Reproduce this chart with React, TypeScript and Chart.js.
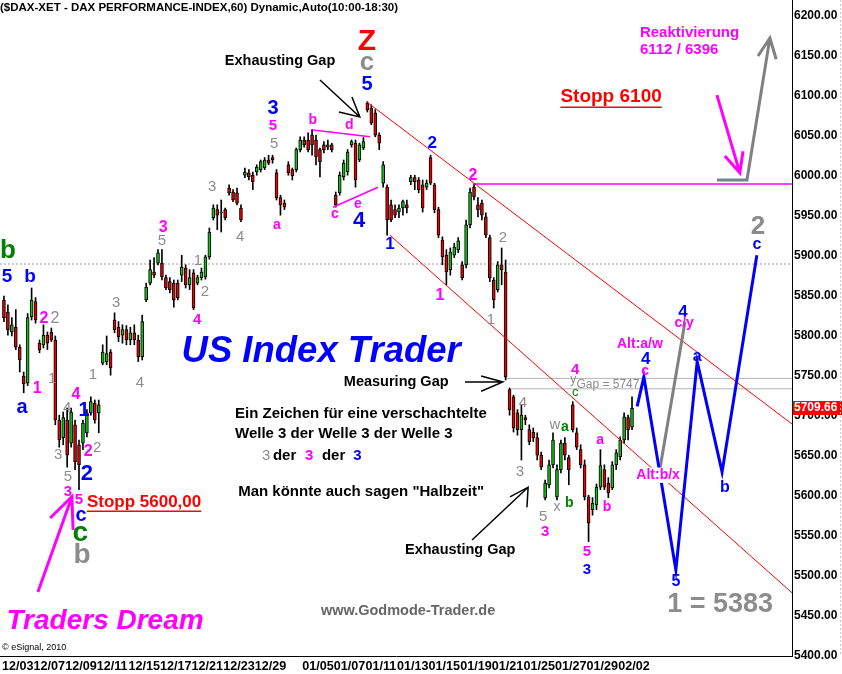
import React, { useEffect, useRef } from "react";
import { Chart, registerables } from "chart.js";

Chart.register(...registerables);

const FONT = "'Liberation Sans', Arial, Helvetica, sans-serif";

const TITLE = "($DAX-XET - DAX PERFORMANCE-INDEX,60) Dynamic,Auto(10:00-18:30)";
const BARS_PER_DAY = 4;
const DAY_LABELS = ["12/03", "12/07", "12/09", "12/11", "12/15", "12/17", "12/21", "12/23", "12/29", "01/05", "01/07", "01/11", "01/13", "01/15", "01/19", "01/21", "01/25", "01/27", "01/29", "02/02"];
const DAY_SLOTS = [0, 2, 4, 6, 8, 10, 12, 14, 16, 19, 21, 23, 25, 27, 29, 31, 33, 35, 37, 39];
const PRICE_TICKS = [5400, 5450, 5500, 5550, 5600, 5650, 5700, 5750, 5800, 5850, 5900, 5950, 6000, 6050, 6100, 6150, 6200];
const LAST_PRICE = 5709.66;

const OPEN = [
  5845, 5830, 5805, 5811, 5786, 5750, 5741, 5824, 5843, 5791,
  5789, 5801, 5805, 5795, 5695, 5673, 5695, 5666, 5689, 5664,
  5666, 5679, 5704, 5716, 5704, 5766, 5768, 5780, 5820, 5811,
  5801, 5808, 5795, 5804, 5795, 5774, 5845, 5866, 5880, 5891,
  5891, 5873, 5868, 5866, 5866, 5876, 5885, 5864, 5879, 5866,
  5873, 5874, 5899, 5948, 5958, 5954, 5958, 5985, 5980, 5979,
  5960, 6001, 6004, 6001, 6005, 6008, 6010, 6020, 6023, 6004,
  5973, 5966, 6014, 6008, 6008, 6033, 6045, 6045, 6051, 6045,
  6033, 6039, 6036, 6039, 5976, 5979, 5999, 6005, 6039, 6041,
  6020, 6035, 6091, 6085, 6079, 6051, 5991, 5986, 5964, 5958,
  5955, 5960, 5964, 5993, 5998, 5995, 5989, 5986, 6023, 5989,
  5958, 5920, 5901, 5883, 5901, 5908, 5889, 5889, 5939, 5986,
  5964, 5966, 5949, 5923, 5870, 5858, 5889, 5880, 5733, 5724,
  5704, 5683, 5698, 5683, 5680, 5673, 5651, 5598, 5614, 5639,
  5599, 5633, 5666, 5648, 5714, 5679, 5658, 5639, 5599, 5583,
  5589, 5611, 5633, 5616, 5610, 5639, 5649, 5670, 5698, 5686,
];
const HIGH = [
  5850, 5839, 5823, 5833, 5789, 5755, 5828, 5860, 5848, 5795,
  5814, 5805, 5810, 5800, 5701, 5705, 5710, 5710, 5695, 5670,
  5695, 5708, 5724, 5720, 5720, 5789, 5800, 5783, 5829, 5818,
  5814, 5813, 5811, 5814, 5801, 5826, 5866, 5895, 5898, 5908,
  5908, 5876, 5873, 5870, 5870, 5901, 5889, 5883, 5883, 5876,
  5885, 5901, 5935, 5964, 5964, 5970, 5960, 5989, 5983, 5985,
  5964, 6010, 6008, 6005, 6014, 6020, 6023, 6026, 6026, 6008,
  5976, 5970, 6018, 6010, 6035, 6049, 6049, 6054, 6058, 6051,
  6035, 6043, 6045, 6041, 5980, 6005, 6020, 6033, 6045, 6045,
  6041, 6048, 6093, 6089, 6083, 6054, 6018, 5989, 5970, 5964,
  5964, 5970, 5970, 6001, 6001, 5998, 5995, 5995, 6026, 5991,
  5961, 5924, 5908, 5910, 5916, 5923, 5893, 5945, 5985, 5989,
  5973, 5970, 5954, 5926, 5873, 5893, 5910, 5895, 5735, 5726,
  5708, 5714, 5701, 5689, 5685, 5679, 5655, 5620, 5645, 5679,
  5639, 5670, 5673, 5651, 5718, 5685, 5664, 5645, 5601, 5598,
  5615, 5658, 5639, 5623, 5643, 5658, 5674, 5704, 5701, 5724,
];
const LOW = [
  5818, 5801, 5800, 5783, 5755, 5729, 5738, 5820, 5816, 5779,
  5785, 5783, 5793, 5689, 5661, 5664, 5636, 5661, 5633, 5608,
  5658, 5674, 5701, 5691, 5679, 5764, 5764, 5751, 5804, 5793,
  5791, 5789, 5789, 5789, 5768, 5770, 5843, 5864, 5873, 5889,
  5870, 5858, 5854, 5836, 5845, 5868, 5860, 5858, 5833, 5864,
  5870, 5871, 5896, 5945, 5933, 5930, 5945, 5976, 5968, 5964,
  5943, 5998, 5995, 5983, 6001, 6005, 6008, 6014, 6016, 5970,
  5951, 5958, 6001, 5995, 6005, 6030, 6036, 6030, 6026, 6014,
  5999, 6029, 6033, 6030, 5961, 5976, 5995, 6001, 6036, 5986,
  6018, 6033, 6080, 6064, 6049, 6033, 5986, 5926, 5943, 5948,
  5948, 5951, 5954, 5989, 5983, 5979, 5955, 5983, 5989, 5954,
  5923, 5889, 5864, 5876, 5898, 5904, 5870, 5885, 5935, 5970,
  5949, 5945, 5923, 5868, 5835, 5855, 5864, 5745, 5701, 5680,
  5676, 5645, 5689, 5664, 5668, 5645, 5633, 5595, 5610, 5635,
  5595, 5629, 5645, 5614, 5680, 5658, 5635, 5595, 5543, 5576,
  5583, 5608, 5608, 5598, 5608, 5633, 5645, 5666, 5670, 5683,
];
const CLOSE = [
  5823, 5808, 5814, 5786, 5770, 5740, 5823, 5845, 5820, 5783,
  5801, 5791, 5795, 5695, 5670, 5698, 5651, 5705, 5643, 5639,
  5691, 5704, 5718, 5695, 5714, 5780, 5778, 5760, 5808, 5799,
  5808, 5795, 5804, 5795, 5774, 5818, 5861, 5883, 5876, 5904,
  5874, 5860, 5858, 5845, 5848, 5886, 5864, 5873, 5835, 5873,
  5880, 5899, 5930, 5960, 5951, 5955, 5948, 5979, 5970, 5966,
  5945, 6005, 5999, 5993, 6011, 6018, 6020, 6016, 6020, 5973,
  5964, 5961, 6004, 6000, 6033, 6045, 6039, 6033, 6039, 6024,
  6018, 6033, 6039, 6033, 5964, 6001, 6016, 6030, 6043, 5995,
  6039, 6043, 6083, 6066, 6051, 6041, 6014, 5945, 5945, 5951,
  5960, 5968, 5960, 5998, 5993, 5983, 5960, 5991, 5991, 5958,
  5926, 5899, 5880, 5905, 5911, 5919, 5873, 5939, 5980, 5974,
  5958, 5951, 5926, 5873, 5845, 5889, 5883, 5749, 5708, 5685,
  5683, 5701, 5695, 5668, 5673, 5651, 5636, 5616, 5639, 5670,
  5633, 5666, 5651, 5633, 5683, 5661, 5639, 5599, 5566, 5591,
  5611, 5638, 5611, 5604, 5639, 5654, 5670, 5699, 5683, 5709.66,
];

// drawn lines, in (bar index, price); null breaks a path
const CHANNEL_UPPER = [[92, 6092], [199.5, 5690]];
const CHANNEL_LOWER = [[97.7, 5926], [199.5, 5479]];
const RESIST_5990 = [[118.7, 5990], [199.5, 5990]];
const DOTTED_5890 = [[-1, 5890], [199.5, 5890]];
const GAP_UPPER = [[127, 5747], [199.5, 5747]];
const GAP_LOWER = [[128, 5734], [199.5, 5734]];
const TRI_UPPER = [[78.2, 6057.5], [92.7, 6049]];
const TRI_LOWER = [[83.3, 5961], [94.7, 5986]];
const PROJ_BLUE = [[160.3, 5712], [162, 5749], [170.1, 5507.5], [175.5, 5768], [181.8, 5630], [190.6, 5901]];
const PROJ_GRAY = [[166.1, 5635], [172.4, 5817.5]];
const ARROW_GRAY = [[180.5, 5995], [188.1, 5995], [193.9, 6172.5], null, [190.9, 6150], [193.9, 6172.5], [195.5, 6146]];
const ARROW_MAGENTA = [[180.5, 6101], [186.3, 6004], null, [182.5, 6025], [186.3, 6004], [187.1, 6031]];
const ARROW_DREAM = [[8.6, 5480], [17.2, 5599], null, [11.7, 5572.5], [17.2, 5599], [17.5, 5557.5]];
const ARROW_EXH_TOP = [[80, 6120], [90.1, 6073.75], null, [88.1, 6098.75], [90.1, 6073.75], [84.8, 6080]];
const ARROW_MEASURE = [[116.7, 5742.5], [126.3, 5742.5], null, [120.8, 5750], [126.3, 5742.5], [120.8, 5731]];
const ARROW_EXH_BOTTOM = [[118.5, 5545], [132.7, 5611], null, [128.1, 5599], [132.7, 5611], [132.4, 5586]];

const MAG = "#ff00ff";
const BLU = "#0000ff";
const GRY = "#8c8c8c";
const GRN = "#008000";
const RED = "#ff0000";
const BLK = "#000000";

type Lbl = { t: string; i: number; p: number; c: string; s: number; b?: number; it?: number; a?: string; bg?: number; u?: number };

const LABELS: Lbl[] = [
  { t: "b", i: 1.0, p: 5906, c: GRN, s: 26, b: 1 },
  { t: "5", i: 0.8, p: 5874, c: BLU, s: 19, b: 1 },
  { t: "b", i: 6.6, p: 5874, c: BLU, s: 19, b: 1 },
  { t: "2", i: 10.1, p: 5822, c: MAG, s: 16, b: 1 },
  { t: "2", i: 12.9, p: 5822, c: GRY, s: 16 },
  { t: "1", i: 8.4, p: 5734, c: MAG, s: 16, b: 1 },
  { t: "a", i: 4.6, p: 5711, c: BLU, s: 20, b: 1 },
  { t: "3", i: 28.4, p: 5842, c: GRY, s: 15 },
  { t: "1", i: 22.5, p: 5751, c: GRY, s: 15 },
  { t: "4", i: 34.4, p: 5742, c: GRY, s: 15 },
  { t: "1", i: 12.2, p: 5747, c: GRY, s: 15 },
  { t: "4", i: 18.2, p: 5727, c: MAG, s: 16, b: 1 },
  { t: "1", i: 20.3, p: 5707, c: BLU, s: 20, b: 1 },
  { t: "4", i: 16.0, p: 5710, c: GRY, s: 15 },
  { t: "3", i: 13.7, p: 5651, c: GRY, s: 15 },
  { t: "5", i: 16.2, p: 5624, c: GRY, s: 15 },
  { t: "2", i: 21.3, p: 5655, c: MAG, s: 16, b: 1 },
  { t: "2", i: 23.6, p: 5660, c: GRY, s: 15 },
  { t: "2", i: 21.0, p: 5627, c: BLU, s: 22, b: 1 },
  { t: "3", i: 16.2, p: 5605, c: MAG, s: 15, b: 1 },
  { t: "5", i: 19.0, p: 5595, c: MAG, s: 15, b: 1 },
  { t: "c", i: 19.5, p: 5576, c: BLU, s: 20, b: 1 },
  { t: "c", i: 19.3, p: 5554, c: GRN, s: 28, b: 1 },
  { t: "b", i: 19.8, p: 5526, c: GRY, s: 28, b: 1 },
  { t: "Stopp 5600,00", i: 21.0, p: 5592.5, c: RED, s: 17, b: 1, a: "l", u: 1 },
  { t: "3", i: 40.3, p: 5936, c: MAG, s: 16, b: 1 },
  { t: "5", i: 40.0, p: 5919, c: GRY, s: 15 },
  { t: "4", i: 48.9, p: 5820, c: MAG, s: 15, b: 1 },
  { t: "1", i: 49.1, p: 5894, c: GRY, s: 15 },
  { t: "2", i: 50.9, p: 5855, c: GRY, s: 15 },
  { t: "3", i: 52.7, p: 5986, c: GRY, s: 15 },
  { t: "4", i: 59.8, p: 5924, c: GRY, s: 15 },
  { t: "a", i: 69.1, p: 5939, c: MAG, s: 14, b: 1 },
  { t: "5", i: 68.4, p: 6040, c: GRY, s: 15 },
  { t: "3", i: 68.1, p: 6085, c: BLU, s: 20, b: 1 },
  { t: "5", i: 68.1, p: 6062.5, c: MAG, s: 15, b: 1 },
  { t: "b", i: 78.2, p: 6070, c: MAG, s: 14, b: 1 },
  { t: "d", i: 87.4, p: 6064, c: MAG, s: 14, b: 1 },
  { t: "c", i: 83.8, p: 5952.5, c: MAG, s: 14, b: 1 },
  { t: "e", i: 89.6, p: 5965, c: MAG, s: 14, b: 1 },
  { t: "4", i: 89.9, p: 5944, c: BLU, s: 22, b: 1 },
  { t: "5", i: 91.9, p: 6115, c: BLU, s: 20, b: 1 },
  { t: "c", i: 91.9, p: 6141, c: GRY, s: 26, b: 1 },
  { t: "Z", i: 91.9, p: 6167.5, c: RED, s: 30, b: 1 },
  { t: "Exhausting Gap", i: 69.9, p: 6144, c: BLK, s: 14.5, b: 1 },
  { t: "2", i: 108.4, p: 6041, c: BLU, s: 17, b: 1 },
  { t: "1", i: 97.7, p: 5914, c: BLU, s: 17, b: 1 },
  { t: "2", i: 118.7, p: 6001, c: MAG, s: 16, b: 1 },
  { t: "1", i: 110.4, p: 5850, c: MAG, s: 16, b: 1 },
  { t: "2", i: 126.3, p: 5922.5, c: GRY, s: 15 },
  { t: "1", i: 123.3, p: 5820, c: GRY, s: 15 },
  { t: "US Index Trader", i: 80.3, p: 5780, c: BLU, s: 36.5, b: 1, it: 1 },
  { t: "Measuring Gap", i: 99.3, p: 5742.5, c: BLK, s: 14.5, b: 1 },
  { t: "Ein Zeichen für eine verschachtelte", i: 58.5, p: 5702.5, c: BLK, s: 15, b: 1, a: "l" },
  { t: "Welle 3 der Welle 3 der Welle 3", i: 58.5, p: 5677.5, c: BLK, s: 15, b: 1, a: "l" },
  { t: "3", i: 65.3, p: 5650, c: GRY, s: 15, a: "l" },
  { t: "der", i: 68.1, p: 5650, c: BLK, s: 15, b: 1, a: "l" },
  { t: "3", i: 76.2, p: 5650, c: MAG, s: 15, b: 1, a: "l" },
  { t: "der", i: 80.5, p: 5650, c: BLK, s: 15, b: 1, a: "l" },
  { t: "3", i: 88.4, p: 5650, c: BLU, s: 15, b: 1, a: "l" },
  { t: "Man könnte auch sagen \"Halbzeit\"", i: 59.3, p: 5605, c: BLK, s: 15, b: 1, a: "l" },
  { t: "Exhausting Gap", i: 115.5, p: 5532.5, c: BLK, s: 14.5, b: 1 },
  { t: "www.Godmode-Trader.de", i: 102.3, p: 5456, c: "#666666", s: 14.5, b: 1 },
  { t: "1 = 5383", i: 181.3, p: 5464, c: GRY, s: 27, b: 1 },
  { t: "Traders Dream", i: 25.6, p: 5444, c: MAG, s: 28, b: 1, it: 1 },
  { t: "Stopp 6100", i: 153.7, p: 6099, c: RED, s: 19, b: 1, u: 1 },
  { t: "Reaktivierung", i: 161.0, p: 6179, c: MAG, s: 15, b: 1, a: "l" },
  { t: "6112 / 6396", i: 161.0, p: 6157.5, c: MAG, s: 15, b: 1, a: "l" },
  { t: "Alt:a/w", i: 161.0, p: 5790, c: MAG, s: 14, b: 1 },
  { t: "4", i: 162.5, p: 5771, c: BLU, s: 17, b: 1 },
  { t: "c", i: 162.3, p: 5756, c: MAG, s: 14, b: 1 },
  { t: "4", i: 171.9, p: 5830, c: BLU, s: 17, b: 1 },
  { t: "c/y", i: 172.2, p: 5816, c: MAG, s: 14, b: 1 },
  { t: "Alt:b/x", i: 165.6, p: 5626, c: MAG, s: 14, b: 1, bg: 1 },
  { t: "a", i: 175.5, p: 5774, c: BLU, s: 16, b: 1 },
  { t: "b", i: 182.5, p: 5610, c: BLU, s: 16, b: 1 },
  { t: "5", i: 170.1, p: 5492.5, c: BLU, s: 16, b: 1 },
  { t: "2", i: 190.9, p: 5936, c: GRY, s: 26, b: 1 },
  { t: "c", i: 190.6, p: 5914, c: BLU, s: 16, b: 1 },
  { t: "4", i: 144.6, p: 5757.5, c: MAG, s: 15, b: 1 },
  { t: "y", i: 144.1, p: 5745, c: GRY, s: 12 },
  { t: "c", i: 144.6, p: 5730, c: GRN, s: 13 },
  { t: "Gap = 5747", i: 152.9, p: 5739, c: GRY, s: 12 },
  { t: "4", i: 131.4, p: 5716, c: GRY, s: 15 },
  { t: "3", i: 130.6, p: 5630, c: GRY, s: 15 },
  { t: "w", i: 139.5, p: 5689, c: GRY, s: 15 },
  { t: "a", i: 142.0, p: 5686, c: GRN, s: 14, b: 1 },
  { t: "x", i: 140.0, p: 5586, c: GRY, s: 14 },
  { t: "b", i: 143.1, p: 5591, c: GRN, s: 14, b: 1 },
  { t: "5", i: 136.5, p: 5574, c: GRY, s: 15 },
  { t: "3", i: 137.0, p: 5555, c: MAG, s: 15, b: 1 },
  { t: "5", i: 147.6, p: 5530, c: MAG, s: 15, b: 1 },
  { t: "3", i: 147.6, p: 5507.5, c: BLU, s: 15, b: 1 },
  { t: "a", i: 150.9, p: 5670, c: MAG, s: 14, b: 1 },
  { t: "b", i: 152.7, p: 5586, c: MAG, s: 14, b: 1 },
];

const toPts = (arr: any[]) =>
  arr.map((p, k) => (p ? { x: p[0], y: p[1] } : { x: arr[k - 1][0], y: null }));

const mkLine = (pts: any[], color: string, width: number, order: number, dash: number[] = []) => ({
  type: "line" as const,
  data: toPts(pts),
  borderColor: color,
  borderWidth: width,
  borderDash: dash,
  pointRadius: 0,
  fill: false,
  tension: 0,
  spanGaps: false,
  order,
  clip: false as any,
});

const fontStr = (l: Lbl) => `${l.it ? "italic " : ""}${l.b ? "bold " : ""}${l.s}px ${FONT}`;

const labelPlugin = {
  id: "labels",
  afterDatasetsDraw(chart: any) {
    const { ctx, scales } = chart;
    const xs = scales.x;
    const ys = scales.y;
    ctx.save();
    for (const l of LABELS) {
      const x = xs.getPixelForValue(l.i);
      const y = ys.getPixelForValue(l.p);
      ctx.font = fontStr(l);
      ctx.textBaseline = "middle";
      ctx.textAlign = l.a === "l" ? "left" : "center";
      const w = ctx.measureText(l.t).width;
      const left = l.a === "l" ? x : x - w / 2;
      if (l.bg) {
        ctx.fillStyle = "#ffffff";
        ctx.fillRect(left - 1, y - l.s * 0.55, w + 2, l.s * 1.1);
      }
      ctx.fillStyle = l.c;
      ctx.fillText(l.t, x, y);
      if (l.u) {
        ctx.strokeStyle = l.c;
        ctx.lineWidth = 1.5;
        ctx.beginPath();
        ctx.moveTo(left, y + l.s * 0.55);
        ctx.lineTo(left + w, y + l.s * 0.55);
        ctx.stroke();
      }
    }
    ctx.restore();
  },
  afterDraw(chart: any) {
    const { ctx, scales, chartArea, width } = chart;
    ctx.save();
    ctx.fillStyle = "#000";
    ctx.textAlign = "left";
    ctx.textBaseline = "middle";
    ctx.font = `bold 11.5px ${FONT}`;
    ctx.fillText(TITLE, 0, 8);
    ctx.font = `9px ${FONT}`;
    ctx.fillText("\u00a9 eSignal, 2010", 2, 648);
    const y = scales.y.getPixelForValue(LAST_PRICE);
    ctx.fillStyle = "#ff0000";
    ctx.fillRect(chartArea.right + 1, Math.round(y) - 7, width - chartArea.right - 1, 14);
    ctx.fillStyle = "#ffffff";
    ctx.font = `bold 12px ${FONT}`;
    ctx.fillText(LAST_PRICE.toFixed(2), chartArea.right + 2, Math.round(y));
    ctx.strokeStyle = "#c8c8c8";
    ctx.setLineDash([2, 2]);
    ctx.lineWidth = 1;
    ctx.beginPath();
    ctx.moveTo(width - 1.5, 0);
    ctx.lineTo(width - 1.5, chartArea.bottom);
    ctx.stroke();
    ctx.restore();
  },
};

export default function App() {
  const ref = useRef<HTMLCanvasElement | null>(null);
  useEffect(() => {
    if (!ref.current) return;
    const idx = OPEN.map((_, i) => i);
    const up = idx.map((i) => CLOSE[i] >= OPEN[i]);
    const chart = new Chart(ref.current, {
      type: "bar",
      data: {
        datasets: [
          mkLine(PROJ_BLUE, BLU, 3, 0),
          mkLine(PROJ_GRAY, "#808080", 3, 0),
          mkLine(ARROW_GRAY, "#808080", 3, 0),
          mkLine(ARROW_MAGENTA, MAG, 3, 0),
          mkLine(ARROW_DREAM, MAG, 3, 0),
          mkLine(ARROW_EXH_TOP, BLK, 1.5, 0),
          mkLine(ARROW_MEASURE, BLK, 1.5, 0),
          mkLine(ARROW_EXH_BOTTOM, BLK, 1.5, 0),
          mkLine(CHANNEL_UPPER, RED, 1, 0),
          mkLine(CHANNEL_LOWER, RED, 1, 0),
          mkLine(TRI_UPPER, MAG, 1.5, 0),
          mkLine(TRI_LOWER, MAG, 1.5, 0),
          {
            type: "bar",
            data: idx.map((i) => ({ x: i, y: [Math.min(OPEN[i], CLOSE[i]), Math.max(OPEN[i], CLOSE[i])] })),
            backgroundColor: idx.map((i) => (up[i] ? "#10c010" : "#e80000")),
            borderColor: "#000000",
            borderWidth: 1,
            borderSkipped: false,
            barThickness: 3,
            grouped: false,
            order: 1,
          } as any,
          {
            type: "bar",
            data: idx.map((i) => ({ x: i, y: [LOW[i], HIGH[i]] })),
            backgroundColor: "#000000",
            borderWidth: 0,
            barThickness: 1,
            grouped: false,
            order: 2,
          } as any,
          mkLine(RESIST_5990, MAG, 1.5, 3),
          mkLine(DOTTED_5890, "#a898b8", 1, 3, [2, 2]),
          mkLine(GAP_UPPER, "#b4b4b4", 1, 3),
          mkLine(GAP_LOWER, "#b4b4b4", 1, 3),
        ] as any,
      },
      options: {
        responsive: false,
        animation: false,
        events: [],
        layout: { padding: 0 },
        plugins: { legend: { display: false }, tooltip: { enabled: false }, title: { display: false } },
        scales: {
          x: {
            type: "linear",
            min: -1,
            max: 199.5,
            offset: false,
            grid: { display: false, drawTicks: false },
            border: { display: true, color: "#000", width: 1 },
            ticks: {
              autoSkip: false,
              maxRotation: 0,
              minRotation: 0,
              align: "start",
              padding: 3,
              color: "#000",
              font: { family: FONT, size: 12.6, weight: "bold" },
              callback: (_v: any, k: number) => DAY_LABELS[k],
            },
            afterBuildTicks: (s: any) => {
              s.ticks = DAY_SLOTS.map((d) => ({ value: d * BARS_PER_DAY - 0.5 }));
            },
            afterFit: (s: any) => {
              s.height = 18;
              s.paddingLeft = 0;
              s.paddingRight = 0;
            },
          },
          y: {
            type: "linear",
            position: "right",
            min: 5400,
            max: 6220,
            beginAtZero: false,
            grid: { display: false, drawTicks: false },
            border: { display: true, color: "#000", width: 1 },
            ticks: {
              padding: 2,
              color: "#000",
              font: { family: FONT, size: 12, weight: "bold" },
              callback: (v: any) => Number(v).toFixed(2),
            },
            afterBuildTicks: (s: any) => {
              s.ticks = PRICE_TICKS.map((v) => ({ value: v }));
            },
            afterFit: (s: any) => {
              s.width = 50;
              s.paddingTop = 0;
              s.paddingBottom = 0;
            },
          },
        },
      } as any,
      plugins: [labelPlugin],
    });
    return () => chart.destroy();
  }, []);
  return (
    <div style={{ position: "absolute", left: 0, top: 0, width: 842, height: 674, background: "#ffffff" }}>
      <canvas ref={ref} width={842} height={674} style={{ display: "block" }} />
    </div>
  );
}
